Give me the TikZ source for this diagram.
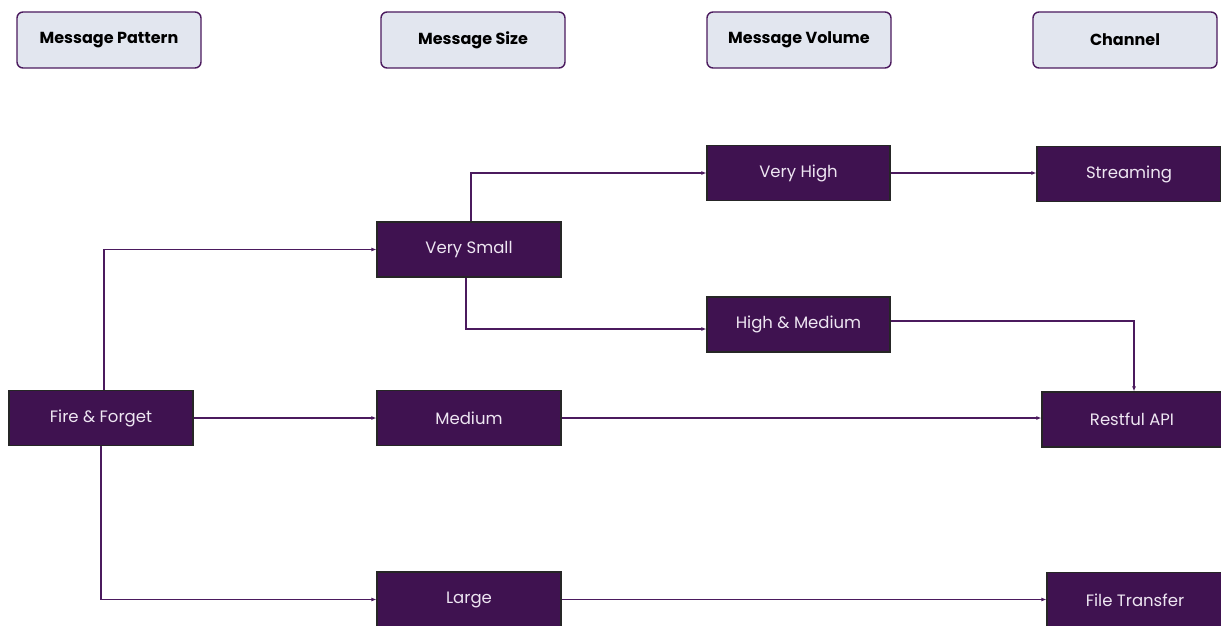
\documentclass[tikz,border=0pt]{standalone}
\usepackage{fontspec}
\setmainfont{Poppins}
\usetikzlibrary{arrows.meta}
\definecolor{plum}{HTML}{3F1250}
\definecolor{plumline}{HTML}{4B1A5E}
\definecolor{headfill}{HTML}{E2E6EF}
\definecolor{lighttext}{HTML}{EEE6F2}
\begin{document}
\begin{tikzpicture}[x=1pt,y=-1pt,
  header/.style={draw=plumline, line width=1.4pt, fill=headfill, rounded corners=6pt,
    minimum width=184pt, minimum height=56pt, font=\fontsize{16}{19}\selectfont\bfseries, text=black},
  choice/.style={draw=black!85, line width=1.2pt, fill=plum,
    minimum height=55pt, font=\fontsize{16.5}{19}\selectfont, text=lighttext},
  flow/.style={draw=plumline, line width=1.3pt, -{Latex[length=5pt,width=4pt]}}]
\useasboundingbox (0,0) rectangle (1221,626);

% column headers
\node[header] (hpat) at (109,40) {Message Pattern};
\node[header] (hsize) at (473,40) {Message Size};
\node[header] (hvol) at (799,40) {Message Volume};
\node[header] (hchan) at (1125,40) {Channel};

% decision boxes
\node[choice, minimum width=184pt] (fire) at (101,418) {Fire \& Forget};
\node[choice, minimum width=184pt] (vsmall) at (469,249.5) {Very Small};
\node[choice, minimum width=184pt] (medium) at (469,418) {Medium};
\node[choice, minimum width=184pt] (large) at (469,599.5) {Large};
\node[choice, minimum width=183pt] (vhigh) at (798.5,173) {Very High};
\node[choice, minimum width=183pt] (hmed) at (798.5,324.5) {High \& Medium};
\node[choice, minimum width=184pt] (stream) at (1129,174) {Streaming};
\node[choice, minimum width=180pt] (rest) at (1132,419.5) {Restful API};
\node[choice, minimum width=176pt] (file) at (1135,600) {File Transfer};

% connectors
\draw[flow] ([xshift=3pt]fire.north) |- (vsmall.west);
\draw[flow] (fire.east) -- (medium.west);
\draw[flow] (fire.south) |- (large.west);
\draw[flow] ([xshift=2pt]vsmall.north) |- (vhigh.west);
\draw[flow] ([xshift=-3pt]vsmall.south) |- ([yshift=-4.5pt]hmed.west);
\draw[flow] (vhigh.east) -- (vhigh.east -| stream.west);
\draw[flow] ([yshift=3.5pt]hmed.east) -| ([xshift=2pt]rest.north);
\draw[flow] (medium.east) -- (medium.east -| rest.west);
\draw[flow] (large.east) -- (large.east -| file.west);
\end{tikzpicture}
\end{document}
